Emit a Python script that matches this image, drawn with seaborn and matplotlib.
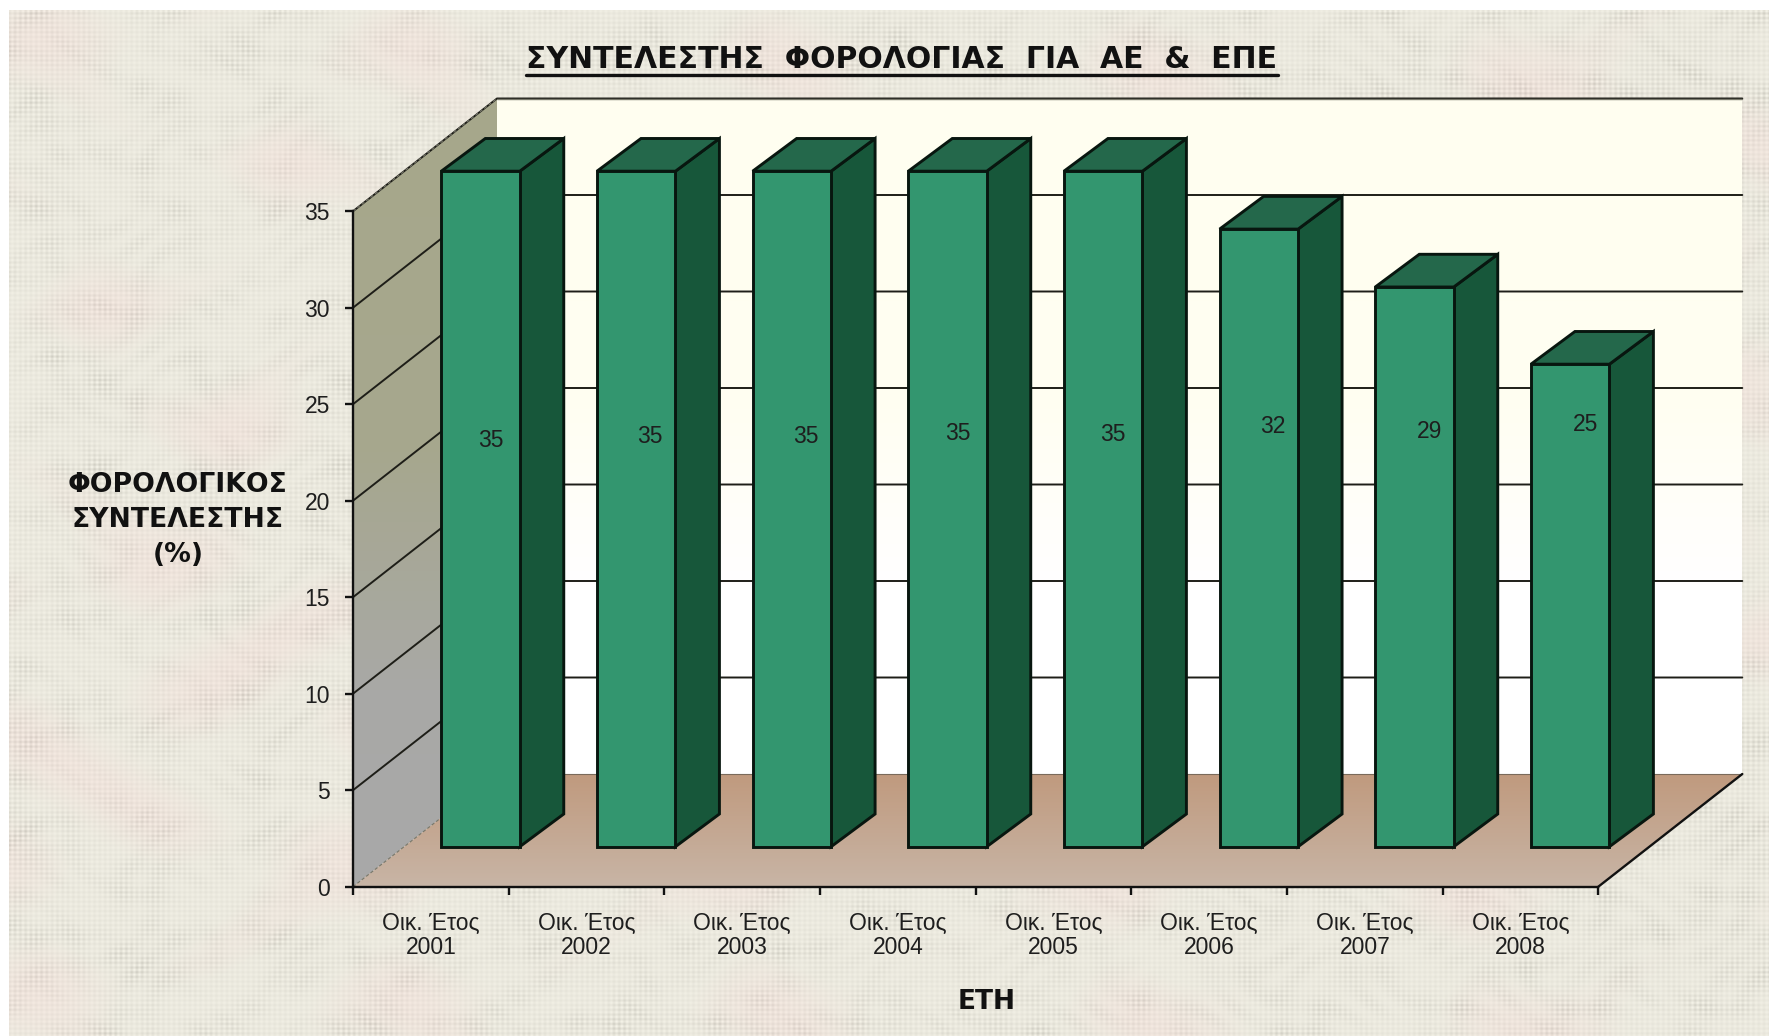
import numpy as np
import pandas as pd
import matplotlib
matplotlib.use("Agg")
import matplotlib.pyplot as plt
from matplotlib.lines import Line2D
from matplotlib.patches import Polygon
import seaborn as sns

# ---- chart data ----
years = ["2001", "2002", "2003", "2004", "2005", "2006", "2007", "2008"]
category_prefix = "Οικ. Έτος"
tax_rate = [35, 35, 35, 35, 35, 32, 29, 25]
y_ticks = [0, 5, 10, 15, 20, 25, 30, 35]
title_text = "ΣΥΝΤΕΛΕΣΤΗΣ  ΦΟΡΟΛΟΓΙΑΣ  ΓΙΑ  ΑΕ  &  ΕΠΕ"
ylabel_text = "ΦΟΡΟΛΟΓΙΚΟΣ\nΣΥΝΤΕΛΕΣΤΗΣ\n(%)"
xlabel_text = "ΕΤΗ"

# ---- layout (pixels of the 1769x1036 canvas) ----
W, H = 1769, 1036
AX_L, AX_R, AX_B = 353.0, 1598.3, 886.7
PX_Y = 19.3
PX_X = (AX_R - AX_L) / len(years)
WALL_DX, WALL_DY = 144.0 / PX_X, 112.7 / PX_Y      # plot depth, in data units
BAR_SHIFT_X, BAR_SHIFT_Y = 49.7, 40.0              # bars' plane relative to the axes plane
BAR_WIDTH = 0.504
BAR_DX, BAR_DY = 44.0 / PX_X, 32.7 / PX_Y          # bar depth, in data units
LABEL_NUDGE = [(0.065, 21.03), (0.087, 21.25), (0.087, 21.25), (0.065, 21.43),
               (0.065, 21.38), (0.087, 21.75), (0.094, 21.53), (0.10, 21.88)]

C_FRONT, C_SIDE, C_TOP = "#33966F", "#17573A", "#24684B"
C_EDGE = "#08160F"
C_TEXT = "#1E1E1E"

sns.set_theme(style="white")
plt.rcParams["font.family"] = ["Liberation Sans", "DejaVu Sans"]

fig = plt.figure(figsize=(W / 100, H / 100), dpi=100, facecolor="white")

# ---- woven paper backdrop (deterministic pattern) ----
bg = fig.add_axes([0, 0, 1, 1], zorder=0)
bg.set_axis_off()
yy, xx = np.mgrid[0:H, 0:W].astype(float)
weave = (np.sin(xx * 2 * np.pi / 5.3) + np.sin(yy * 2 * np.pi / 4.7)) / 2
clump = 0.5 + 0.5 * np.sin(xx / 11.0 + 2 * np.sin(yy / 19.0)) * np.cos(yy / 9.0 + 2 * np.sin(xx / 23.0))
broad = 0.5 + 0.5 * np.sin(xx / 37.0 + np.sin(yy / 23.0) * 2.1) * np.sin(yy / 29.0 + np.sin(xx / 41.0) * 1.7)
pink = np.clip(np.sin(xx / 60.0 + 1.2 * np.sin(yy / 50.0)) * np.sin(yy / 38.0 + 0.8 * np.cos(xx / 55.0)), 0, 1)
lum = 0.925 + 0.075 * weave * (0.25 + 0.75 * clump * broad) - 0.035 * clump * broad
img = np.dstack([lum + 0.012 * pink, lum - 0.008 - 0.022 * pink, lum - 0.05 - 0.012 * pink])
img = np.clip(img, 0, 1)
img[:10, :] = 1
img[:, :9] = 1
bg.imshow(img, extent=(0, W, H, 0), aspect="auto", interpolation="bilinear")

# ---- axes plane: ticks, walls, floor ----
ax = fig.add_axes([AX_L / W, (H - AX_B) / H, (AX_R - AX_L) / W, 35 * PX_Y / H], zorder=1)
ax.patch.set_alpha(0)
x0, x1 = -0.5, len(years) - 0.5
ax.set_xlim(x0, x1)
ax.set_ylim(0, 35)


def gradient(poly, c_top, c_bottom, ys=None):
    """Fill a polygon given in data coords with a vertical colour ramp."""
    pts = np.array(poly)
    ymin, ymax = pts[:, 1].min(), pts[:, 1].max()
    stops = np.linspace(0, 1, 256)[:, None]
    a, b = np.array(matplotlib.colors.to_rgb(c_top)), np.array(matplotlib.colors.to_rgb(c_bottom))
    if ys is not None:
        s = np.interp(stops[:, 0], ys[0], ys[1])[:, None]
    else:
        s = stops
    ramp = (a * (1 - s) + b * s)[:, None, :]
    im = ax.imshow(ramp, extent=(pts[:, 0].min(), pts[:, 0].max(), ymin, ymax),
                   origin="upper", aspect="auto", zorder=1, interpolation="bilinear")
    clip = Polygon(poly, closed=True, transform=ax.transData)
    im.set_clip_box(fig.bbox)
    im.set_clip_path(clip)


back = [(x0 + WALL_DX, WALL_DY), (x1 + WALL_DX, WALL_DY),
        (x1 + WALL_DX, WALL_DY + 35), (x0 + WALL_DX, WALL_DY + 35)]
left = [(x0, 0), (x0 + WALL_DX, WALL_DY), (x0 + WALL_DX, WALL_DY + 35), (x0, 35)]
floor = [(x0, 0), (x1, 0), (x1 + WALL_DX, WALL_DY), (x0 + WALL_DX, WALL_DY)]
gradient(back, "#FFFEF0", "#FFFFFF", ys=([0, 0.45, 0.72, 1], [0, 0.1, 1, 1]))
gradient(left, "#A6A78B", "#A9A9A9", ys=([0, 0.45, 0.75, 1], [0, 0.1, 0.9, 1]))
gradient(floor, "#C09A7E", "#C8B5A6")
ax.set_xlim(x0, x1)
ax.set_ylim(0, 35)

for v in y_ticks[1:]:
    ax.plot([x0, x0 + WALL_DX, x1 + WALL_DX], [v, v + WALL_DY, v + WALL_DY],
            color="#1E1E18", lw=1.4, clip_on=False, zorder=2)
ax.plot([x0 + WALL_DX, x1 + WALL_DX], [WALL_DY + 35, WALL_DY + 35],
        color="#77776A", lw=1.0, clip_on=False, zorder=2)
ax.plot([x0, x0 + WALL_DX], [35, WALL_DY + 35], color="#77776A", lw=0.8, ls=(0, (3, 2)),
        clip_on=False, zorder=2)
ax.plot([x0, x0 + WALL_DX], [0, WALL_DY], color="#77776A", lw=0.8, ls=(0, (3, 2)),
        clip_on=False, zorder=2)
ax.plot([x0 + WALL_DX, x1 + WALL_DX], [WALL_DY, WALL_DY], color="#7A6A5A", lw=0.8,
        clip_on=False, zorder=2)
ax.plot([x1, x1 + WALL_DX], [0, WALL_DY], color="#111111", lw=1.7, clip_on=False, zorder=2)

for s in ("top", "right"):
    ax.spines[s].set_visible(False)
for s in ("left", "bottom"):
    ax.spines[s].set_color("#111111")
    ax.spines[s].set_linewidth(1.7)
    ax.spines[s].set_zorder(3)

ax.set_yticks(y_ticks)
ax.set_yticklabels([str(v) for v in y_ticks], fontsize=16.5, color=C_TEXT)
ax.set_xticks(np.arange(len(years)))
ax.set_xticklabels([f"{category_prefix}\n{y}" for y in years], fontsize=16.5, color=C_TEXT,
                   linespacing=1.1)
ax.set_xticks(np.arange(len(years) + 1) - 0.5, minor=True)
ax.tick_params(axis="x", which="major", length=0, pad=18)
ax.tick_params(axis="x", which="minor", length=5.5, width=1.7, color="#111111", bottom=True)
ax.tick_params(axis="y", which="major", length=5.5, width=1.7, color="#111111", left=True, pad=11)

# ---- bars plane ----
ax_b = fig.add_axes([(AX_L + BAR_SHIFT_X) / W, (H - AX_B + BAR_SHIFT_Y) / H,
                     (AX_R - AX_L) / W, 35 * PX_Y / H], zorder=2)
ax_b.patch.set_alpha(0)
df = pd.DataFrame({"year": years, "rate": tax_rate})
sns.barplot(data=df, x="year", y="rate", ax=ax_b, color=C_FRONT, saturation=1,
            width=BAR_WIDTH, edgecolor=C_EDGE, linewidth=2.1, zorder=3)
ax_b.set_xlim(x0, x1)
ax_b.set_ylim(0, 35)
ax_b.set_axis_off()
for bar in ax_b.patches:
    bar.set_clip_on(False)
for bar, rate, (nx, ny) in zip(list(ax_b.patches), tax_rate, LABEL_NUDGE):
    l, w = bar.get_x(), bar.get_width()
    r = l + w
    side = Polygon([(r, 0), (r + BAR_DX, BAR_DY), (r + BAR_DX, rate + BAR_DY), (r, rate)],
                   closed=True, facecolor=C_SIDE, edgecolor=C_EDGE, lw=2.1, clip_on=False, zorder=2)
    top = Polygon([(l, rate), (r, rate), (r + BAR_DX, rate + BAR_DY), (l + BAR_DX, rate + BAR_DY)],
                  closed=True, facecolor=C_TOP, edgecolor=C_EDGE, lw=2.1, clip_on=False, zorder=2)
    ax_b.add_patch(side)
    ax_b.add_patch(top)
    ax_b.text(l + w / 2 + nx, ny, str(rate), ha="center", va="center", fontsize=16.5,
              color=C_TEXT, zorder=5)

# ---- titles ----
T_FONT = ["DejaVu Sans"]
title = fig.text(902 / W, 1 - 60 / H, title_text, ha="center", va="center", fontsize=21.5,
                 fontweight="bold", color="#111111", family=T_FONT, zorder=5)
fig.text(178 / W, 1 - 520 / H, ylabel_text, ha="center", va="center", ma="center", fontsize=19.2,
         fontweight="bold", color="#111111", family=T_FONT, linespacing=1.45, zorder=5)
fig.text(987 / W, 1 - 1002 / H, xlabel_text, ha="center", va="center", fontsize=19,
         fontweight="bold", color="#111111", family=T_FONT, zorder=5)

fig.canvas.draw()
bb = title.get_window_extent()
fig.add_artist(Line2D([bb.x0 / W, bb.x1 / W], [1 - 75 / H, 1 - 75 / H], color="#111111", lw=2.4))

fig.savefig("out.png", dpi=100)
